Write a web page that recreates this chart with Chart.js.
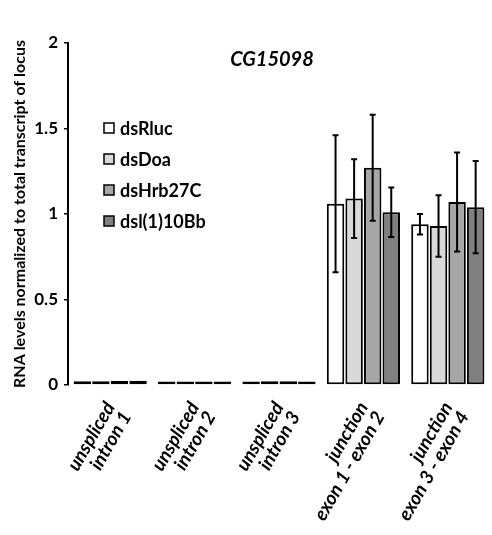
<!DOCTYPE html>
<html>
<head>
<meta charset="utf-8">
<script src="https://cdn.jsdelivr.net/npm/chart.js@4"></script>
<style>
  body { margin: 0; background: #fff; }
  #wrap { width: 492px; height: 535px; }
</style>
</head>
<body>
<div id="wrap"><canvas id="chart"></canvas></div>
<script>
const categories = [
    ['unspliced', 'intron 1'],
    ['unspliced', 'intron 2'],
    ['unspliced', 'intron 3'],
    ['junction', 'exon 1 - exon 2'],
    ['junction', 'exon 3 - exon 4']
];
const seriesNames = ['dsRluc', 'dsDoa', 'dsHrb27C', 'dsl(1)10Bb'];
const seriesColors = ['#ffffff', '#d9d9d9', '#a6a6a6', '#808080'];

const dsRluc = [0.022, 0.020, 0.021, 1.06, 0.94];
const dsDoa = [0.022, 0.020, 0.022, 1.09, 0.93];
const dsHrb27C = [0.023, 0.020, 0.022, 1.27, 1.07];
const dsl110Bb = [0.025, 0.020, 0.021, 1.01, 1.04];

const errRluc = [0.003, 0.002, 0.003, 0.40, 0.06];
const errDoa = [0.003, 0.002, 0.003, 0.23, 0.18];
const errHrb27C = [0.003, 0.002, 0.003, 0.31, 0.29];
const errl110Bb = [0.004, 0.002, 0.003, 0.145, 0.27];

const yTicks = [0, 0.5, 1, 1.5, 2];

const seriesValues = [dsRluc, dsDoa, dsHrb27C, dsl110Bb];
const seriesErrors = [errRluc, errDoa, errHrb27C, errl110Bb];

const errorBars = {
    id: 'errorBars',
    afterDatasetsDraw(chart) {
        const ctx = chart.ctx;
        const y = chart.scales.y;
        ctx.save();
        ctx.strokeStyle = '#000';
        ctx.lineWidth = 2;
        chart.data.datasets.forEach((ds, i) => {
            const meta = chart.getDatasetMeta(i);
            meta.data.forEach((bar, j) => {
                const v = ds.data[j];
                const e = seriesErrors[i][j];
                const top = y.getPixelForValue(v + e);
                const bot = y.getPixelForValue(v - e);
                if (bot - top < 3) return;
                ctx.beginPath();
                ctx.moveTo(bar.x, top);
                ctx.lineTo(bar.x, bot);
                ctx.moveTo(bar.x - 3, top);
                ctx.lineTo(bar.x + 3, top);
                ctx.moveTo(bar.x - 3, bot);
                ctx.lineTo(bar.x + 3, bot);
                ctx.stroke();
            });
        });
        ctx.restore();
    }
};

const insideText = {
    id: 'insideText',
    afterDraw(chart) {
        const ctx = chart.ctx;
        const area = chart.chartArea;
        ctx.save();
        // title
        ctx.fillStyle = '#000';
        ctx.font = 'italic bold 20px Lato';
        ctx.textAlign = 'center';
        ctx.textBaseline = 'middle';
        ctx.fillText('CG15098', area.left + 204, area.top + 17);
        // legend
        ctx.font = 'bold 18px Lato';
        ctx.textAlign = 'left';
        seriesNames.forEach((name, i) => {
            const cy = area.top + 85 + i * 31;
            ctx.fillStyle = seriesColors[i];
            ctx.fillRect(area.left + 36, cy - 5, 10, 10);
            ctx.lineWidth = 1.5;
            ctx.strokeStyle = '#000';
            ctx.strokeRect(area.left + 36, cy - 5, 10, 10);
            ctx.fillStyle = '#000';
            ctx.fillText(name, area.left + 52, cy + 1);
        });
        ctx.restore();
    }
};

new Chart(document.getElementById('chart'), {
    type: 'bar',
    data: {
        labels: categories,
        datasets: seriesNames.map((name, i) => ({
            label: name,
            data: seriesValues[i],
            backgroundColor: seriesColors[i],
            borderColor: '#000',
            borderWidth: 2,
            borderSkipped: false,
            categoryPercentage: 0.88,
            barPercentage: 0.94
        }))
    },
    options: {
        responsive: true,
        maintainAspectRatio: false,
        animation: false,
        layout: { padding: { top: 43, right: 2, bottom: 0, left: 10 } },
        plugins: {
            legend: { display: false },
            tooltip: { enabled: false }
        },
        scales: {
            x: {
                grid: { display: false },
                border: { display: false },
                ticks: {
                    color: '#000',
                    font: { family: 'Lato', size: 19, weight: 'bold', style: 'italic', lineHeight: 1.0 },
                    maxRotation: 60,
                    minRotation: 60,
                    padding: 6
                },
                afterFit(scale) { scale.height = 150; }
            },
            y: {
                min: 0,
                max: 2,
                afterBuildTicks(scale) { scale.ticks = yTicks.map(v => ({ value: v })); },
                grid: { drawOnChartArea: false, drawTicks: true, tickLength: 4, color: '#000', lineWidth: 1.5 },
                border: { display: true, color: '#000', width: 2 },
                ticks: {
                    color: '#000',
                    font: { family: 'Lato', size: 17, weight: 'bold' },
                    padding: 6,
                    callback: v => String(v)
                },
                title: {
                    display: true,
                    text: 'RNA levels normalized to total transcript of locus',
                    color: '#000',
                    font: { family: 'Lato', size: 16, weight: 'bold' },
                    padding: { top: 0, bottom: 6 }
                },
                afterFit(scale) { scale.width = 58; }
            }
        }
    },
    plugins: [errorBars, insideText]
});
</script>
</body>
</html>
